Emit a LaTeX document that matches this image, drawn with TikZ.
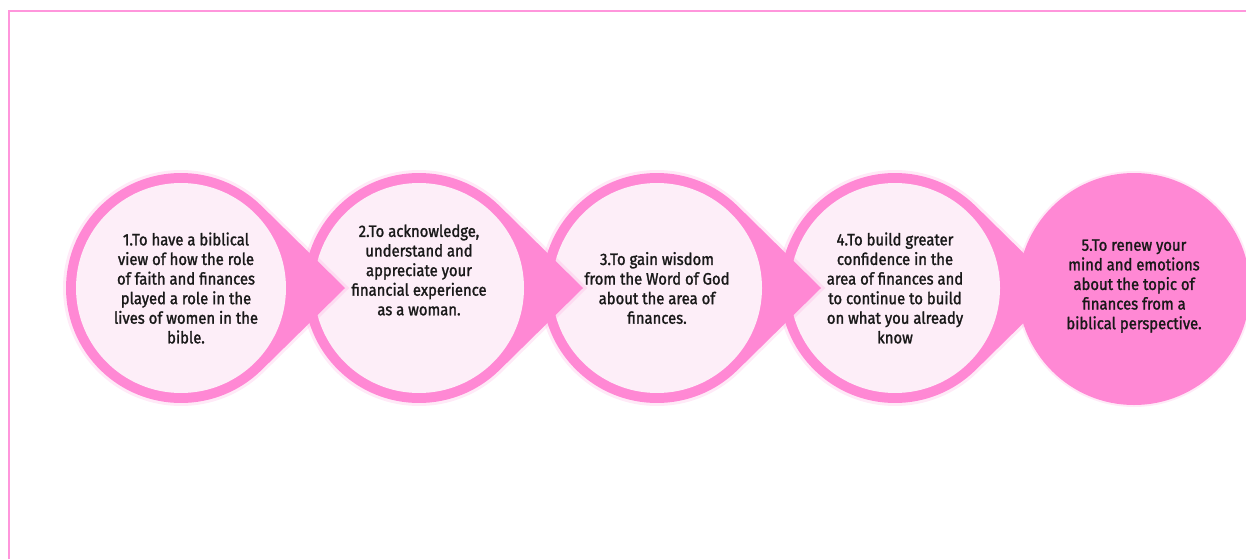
\documentclass[tikz,border=0pt]{standalone}
\usepackage{fontspec}
\setmainfont{Fira Sans}[FakeStretch=0.9,FakeBold=1.5]
\usetikzlibrary{positioning}

\definecolor{ringpink}{RGB}{255,136,212}
\definecolor{discpink}{RGB}{253,238,248}
\definecolor{framepink}{RGB}{255,150,220}

\tikzset{
	glow/.style={draw=ringpink, line width=#1, opacity=.18},
	glow/.default=6pt,
	disc/.style={circle, fill=discpink, minimum size=210pt, inner sep=0pt},
	lastdisc/.style={circle, fill=ringpink, minimum size=232pt, inner sep=0pt},
	steptext/.style={align=center, text=black!90,
		font=\fontsize{16.5}{19.6}\selectfont}
}

\begin{document}
\begin{tikzpicture}[x=1pt, y=-1pt]
\useasboundingbox (0,0) rectangle (1246,559);

% frame
\draw[framepink, line width=2pt] (9,559) -- (9,11) -- (1246,11);

% step centres
\foreach \i/\x in {1/181,2/419,3/657,4/895}
	\coordinate (c\i) at (\x,288);
\coordinate (c5) at (1134,289);

% last step is a plain disc
\path[glow=4pt] (c5) circle[radius=116pt];
\node[lastdisc] (s5) at (c5) {};

% teardrops, right to left so each tip lies over the next disc
\foreach \i in {4,3,2,1}{
	\path[glow] ([shift={(45.5:115pt)}]c\i)
		arc[start angle=45.5, end angle=314.5, radius=115pt]
		-- ([xshift=164pt]c\i) -- cycle;
	\fill[ringpink] ([shift={(45.5:115pt)}]c\i)
		arc[start angle=45.5, end angle=314.5, radius=115pt]
		-- ([xshift=164pt]c\i) -- cycle;
	\node[disc] (s\i) at (c\i) {};
}

\node[steptext] (t1) at ([xshift=5pt]s1.center)
	{1.To have a biblical\\view of how the role\\of faith and finances\\played a role in the\\lives of women in the\\bible.};
\node[steptext] (t2) at ([yshift=18pt]s2.center)
	{2.To acknowledge,\\understand and\\appreciate your\\financial experience\\as a woman.};
\node[steptext] (t3) at (s3.center)
	{3.To gain wisdom\\from the Word of God\\about the area of\\finances.};
\node[steptext] (t4) at (s4.center)
	{4.To build greater\\confidence in the\\area of finances and\\to continue to build\\on what you already\\know};
\node[steptext] (t5) at ([yshift=3pt]s5.center)
	{5.To renew your\\mind and emotions\\about the topic of\\finances from a\\biblical perspective.};
\end{tikzpicture}
\end{document}
